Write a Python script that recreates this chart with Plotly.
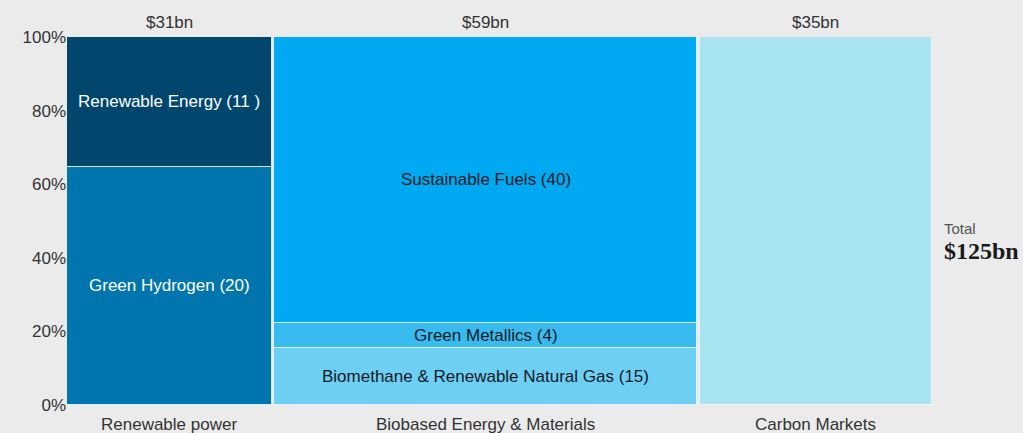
import plotly.graph_objects as go

# ---- data ----
columns = ["Renewable power", "Biobased Energy & Materials", "Carbon Markets"]
column_totals = ["$31bn", "$59bn", "$35bn"]
column_width_share = [23.8, 49.2, 27.0]   # % of horizontal extent

segments = {
    "Renewable power": ["Green Hydrogen (20)", "Renewable Energy (11 )"],
    "Biobased Energy & Materials": ["Biomethane & Renewable Natural Gas (15)", "Green Metallics (4)", "Sustainable Fuels (40)"],
    "Carbon Markets": [""],
}
segment_share = {
    "Renewable power": [64.7, 35.3],
    "Biobased Energy & Materials": [15.5, 6.8, 77.7],
    "Carbon Markets": [100.0],
}
y_ticks = [0, 20, 40, 60, 80, 100]
y_tick_labels = ["0%", "20%", "40%", "60%", "80%", "100%"]
total_label = "$125bn"

# ---- styles ----
seg_colors = {
    "Renewable power": ["#0075ae", "#00466d"],
    "Biobased Energy & Materials": ["#6ccff3", "#38bcf0", "#00a9f1"],
    "Carbon Markets": ["#a9e5f0"],
}
seg_text_colors = {
    "Renewable power": ["#ffffff", "#ffffff"],
    "Biobased Energy & Materials": ["#111a24", "#111a24", "#111a24"],
    "Carbon Markets": ["#111a24"],
}
BG = "#ebebeb"
GAP = 0.25
FONT = "Liberation Sans, Arial, sans-serif"

fig = go.Figure()
annotations = []
x0 = 0.0
for ci, col in enumerate(columns):
    w = column_width_share[ci]
    cx = x0 + w / 2
    base = 0.0
    for si, lab in enumerate(segments[col]):
        h = segment_share[col][si]
        fig.add_trace(go.Bar(
            x=[cx], y=[h], base=[base], width=[w],
            marker=dict(color=seg_colors[col][si],
                        line=dict(color="rgba(235,245,250,0.85)", width=1)),
            hoverinfo="skip", showlegend=False,
        ))
        if lab:
            annotations.append(dict(
                x=cx, y=base + h / 2, xref="x", yref="y", text=lab, showarrow=False,
                font=dict(family=FONT, size=17, color=seg_text_colors[col][si]),
            ))
        base += h
    annotations.append(dict(
        x=cx, y=1, xref="x", yref="paper", yanchor="bottom", yshift=3,
        text=column_totals[ci], showarrow=False,
        font=dict(family=FONT, size=17, color="#333333"),
    ))
    annotations.append(dict(
        x=cx, y=0, xref="x", yref="paper", yanchor="top", yshift=-8,
        text=col, showarrow=False,
        font=dict(family=FONT, size=17, color="#333333"),
    ))
    x0 += w + GAP
x_total = x0 - GAP

annotations.append(dict(
    x=1, y=0.45, xref="paper", yref="paper", xanchor="left", yanchor="bottom",
    xshift=10, text="Total", showarrow=False,
    font=dict(family=FONT, size=15, color="#555555"),
))
annotations.append(dict(
    x=1, y=0.45, xref="paper", yref="paper", xanchor="left", yanchor="top",
    xshift=10, yshift=3, text="<b>" + total_label + "</b>", showarrow=False,
    font=dict(family="Liberation Serif, DejaVu Serif, serif", size=24, color="#1a1a1a"),
))

fig.update_layout(
    width=1023, height=433,
    margin=dict(l=67, r=91, t=37, b=28),
    paper_bgcolor=BG, plot_bgcolor=BG,
    barmode="overlay", bargap=0,
    xaxis=dict(range=[0, x_total], showticklabels=False, showgrid=False,
               zeroline=False, fixedrange=True),
    yaxis=dict(range=[0, 100], tickmode="array", tickvals=y_ticks, ticktext=y_tick_labels,
               showgrid=False, zeroline=False, ticks="", ticklen=0,
               tickfont=dict(family=FONT, size=17, color="#333333")),
    annotations=annotations,
)

fig.write_html("out.html")
